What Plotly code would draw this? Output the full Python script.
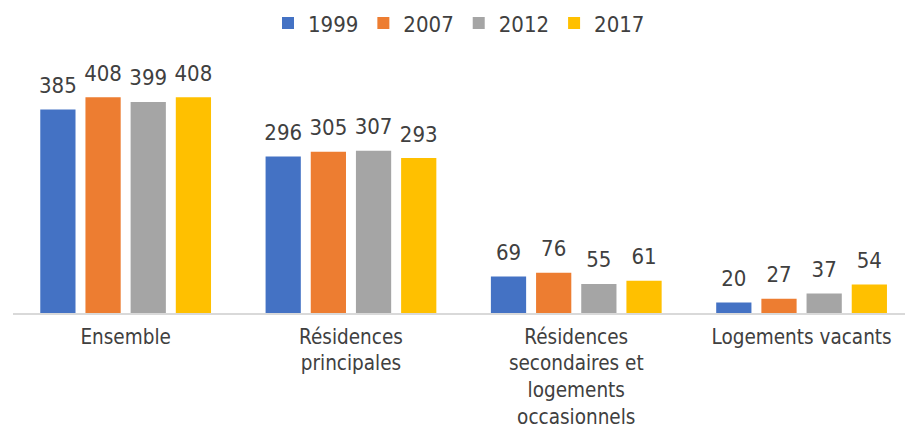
import plotly.graph_objects as go

categories = ["Ensemble", "Résidences<br>principales",
              "Résidences<br>secondaires et<br>logements<br>occasionnels",
              "Logements vacants"]
years = ["1999", "2007", "2012", "2017"]
v1999 = [385, 296, 69, 20]
v2007 = [408, 305, 76, 27]
v2012 = [399, 307, 55, 37]
v2017 = [408, 293, 61, 54]
colors = ["#4472C4", "#ED7D31", "#A5A5A5", "#FFC000"]

FONT = "DejaVu Sans Condensed, Liberation Sans Narrow, sans-serif"
TXT = "#404040"
BARGAP = 0.198

fig = go.Figure()
for name, vals, c in zip(years, [v1999, v2007, v2012, v2017], colors):
    fig.add_trace(go.Bar(
        x=categories, y=vals, name=name, marker_color=c,
        marker_line_width=0, offsetgroup=name,
    ))
for name, vals in zip(years, [v1999, v2007, v2012, v2017]):
    fig.add_trace(go.Scatter(
        x=categories, y=vals, mode="markers+text", showlegend=False,
        offsetgroup=name, marker=dict(size=16, opacity=0),
        text=[str(v) for v in vals], textposition="top center",
        textfont=dict(size=22, color=TXT, family=FONT),
        cliponaxis=False, hoverinfo="skip",
    ))

fig.update_layout(
    width=905, height=432,
    margin=dict(l=13, r=0, t=75, b=119, autoexpand=False),
    paper_bgcolor="white", plot_bgcolor="white",
    barmode="group", bargap=BARGAP, bargroupgap=0.22,
    scattermode="group", scattergap=BARGAP,
    font=dict(family=FONT, size=22, color=TXT),
    showlegend=True,
    legend=dict(orientation="h", x=0.5, xanchor="center", y=0.995,
                yref="container", yanchor="top",
                font=dict(size=22, color=TXT),
                itemwidth=30, traceorder="normal"),
    xaxis=dict(showline=True, linecolor="#D9D9D9", linewidth=2,
               automargin=False,
               range=[-0.5, 3.459], ticks="outside", ticklen=4,
               tickcolor="rgba(0,0,0,0)", showgrid=False,
               tickfont=dict(size=20.5, color=TXT)),
    yaxis=dict(range=[0, 450], visible=False, showgrid=False,
               automargin=False),
)

fig.write_html("out.html")
